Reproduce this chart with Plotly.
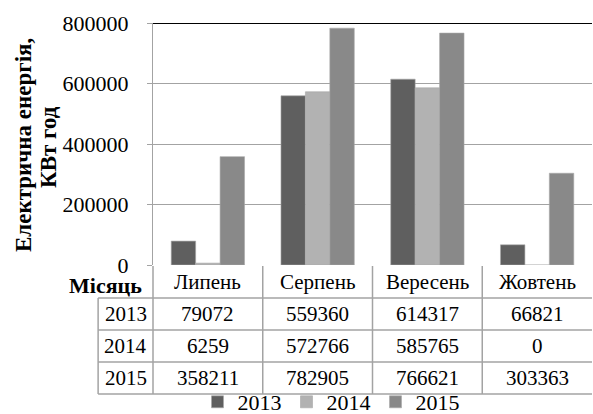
import plotly.graph_objects as go

# ---- data ----
months = ["Липень", "Серпень", "Вересень", "Жовтень"]
years = ["2013", "2014", "2015"]
v2013 = [79072, 559360, 614317, 66821]
v2014 = [6259, 572766, 585765, 0]
v2015 = [358211, 782905, 766621, 303363]
series = [v2013, v2014, v2015]
colors = ["#5f5f5f", "#b2b2b2", "#898989"]
y_ticks = [0, 200000, 400000, 600000, 800000]
y_title_lines = ["Електрична енергія,", "КВт год"]

W, H = 593, 414
FONT = "Liberation Serif, Times New Roman, DejaVu Serif, serif"
GRID = "#a3a3a3"

def fx(p):
    return p / W

def fy(p):
    return 1 - p / H

# bar plot area (pixels)
PX0, PX1 = 153, 592
PY_TOP, PY_BOT = 23, 265
cw = (PX1 - PX0) / len(months)

# table area (pixels)
T_LEFT, T_RIGHT = 90, 593
T_TOP0, ROWH = 266, 32
T_PAD_TOP, T_PAD_BOT = 262, 400

fig = go.Figure()
for name, vals, col in zip(years, series, colors):
    fig.add_trace(go.Bar(x=months, y=vals, name=name,
                         marker=dict(color=col, line=dict(color="#a8a8a8", width=0.6))))

# invisible trace to create the table subplot (x2/y2)
fig.add_trace(go.Scatter(x=[0], y=[0], xaxis="x2", yaxis="y2", mode="markers",
                         marker=dict(opacity=0), showlegend=False, hoverinfo="skip"))

v_left = (T_LEFT - PX0) / cw - 0.5
v_right = (T_RIGHT - PX0) / cw - 0.5
r_top = (T_PAD_TOP - T_TOP0) / ROWH
r_bot = (T_PAD_BOT - T_TOP0) / ROWH

fig.update_layout(
    width=W, height=H,
    margin=dict(l=0, r=0, t=0, b=0, pad=0, autoexpand=False),
    paper_bgcolor="white", plot_bgcolor="rgba(0,0,0,0)",
    font=dict(family=FONT, color="black", size=21),
    barmode="group", bargap=0.332, bargroupgap=0,
    showlegend=True,
    legend=dict(orientation="h", xref="container", yref="container",
                x=fx(331), xanchor="center", y=fy(402), yanchor="middle",
                font=dict(size=22, family=FONT), itemwidth=30, bgcolor="rgba(0,0,0,0)"),
    xaxis=dict(type="category", domain=[fx(PX0), fx(PX1)], range=[-0.5, len(months) - 0.5],
               showticklabels=False, ticks="", showgrid=False, zeroline=False, showline=False,
               anchor="y", automargin=False),
    yaxis=dict(domain=[fy(PY_BOT), fy(PY_TOP)], range=[0, 800000], tickvals=y_ticks,
               ticktext=[str(t) for t in y_ticks], tickfont=dict(size=22, family=FONT),
               showgrid=True, gridcolor=GRID, gridwidth=1, zeroline=False,
               showline=True, linecolor=GRID, linewidth=1,
               ticks="outside", ticklen=5, tickcolor=GRID, ticklabelstandoff=14,
               anchor="x", automargin=False),
    xaxis2=dict(domain=[fx(T_LEFT), 1.0], range=[v_left, v_right], visible=False,
                anchor="y2", fixedrange=True, automargin=False),
    yaxis2=dict(domain=[fy(T_PAD_BOT), fy(T_PAD_TOP)], range=[r_bot, r_top], visible=False,
                anchor="x2", fixedrange=True, automargin=False),
)

shapes = []
# top border line of plot area at max value
shapes.append(dict(type="line", xref="x domain", yref="y", x0=0, x1=1, y0=800000, y1=800000,
                   line=dict(color="black", width=2)))
n = len(months)
# horizontal table lines
for r in range(1, len(years) + 2):
    shapes.append(dict(type="line", xref="x2", yref="y2", x0=-1, x1=n - 0.5, y0=r, y1=r,
                       line=dict(color=GRID, width=1.5)))
# vertical table lines
for c in range(n):
    shapes.append(dict(type="line", xref="x2", yref="y2", x0=c - 0.5, x1=c - 0.5, y0=0,
                       y1=len(years) + 1, line=dict(color=GRID, width=1.5)))
shapes.append(dict(type="line", xref="x2", yref="y2", x0=-1, x1=-1, y0=1,
                   y1=len(years) + 1, line=dict(color=GRID, width=1.5)))

annotations = []
for i, m in enumerate(months):
    annotations.append(dict(x=i, y=0.5, xref="x2", yref="y2", text=m, showarrow=False,
                            font=dict(size=21, family=FONT)))
    for k, vals in enumerate(series):
        annotations.append(dict(x=i, y=1.5 + k, xref="x2", yref="y2", text=str(vals[i]),
                                showarrow=False, font=dict(size=21, family=FONT)))
for k, yr in enumerate(years):
    annotations.append(dict(x=-0.75, y=1.5 + k, xref="x2", yref="y2", text=yr,
                            showarrow=False, font=dict(size=21, family=FONT)))
annotations.append(dict(x=-0.5, y=0.5, xref="x2", yref="y2", text="<b>Місяць</b>",
                        xanchor="right", xshift=-9, yshift=-3, showarrow=False,
                        font=dict(size=22, family=FONT)))
# y-axis title, two rotated lines
for line_txt, xc, yc in zip(y_title_lines, [23, 48], [145, 147]):
    annotations.append(dict(x=fx(xc), y=fy(yc), xref="paper", yref="paper",
                            text="<b>" + line_txt + "</b>", textangle=-90,
                            xanchor="center", yanchor="middle", showarrow=False,
                            font=dict(size=23, family=FONT)))

fig.update_layout(shapes=shapes, annotations=annotations)
fig.write_html("out.html", config={"displayModeBar": False},
               post_script="document.body.style.margin='0px';"
                           "document.body.style.overflow='hidden';")
